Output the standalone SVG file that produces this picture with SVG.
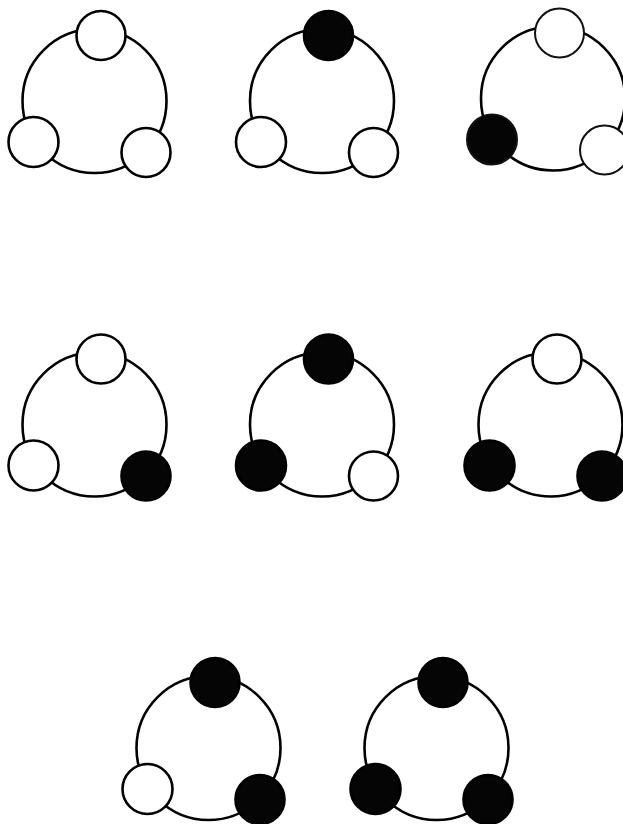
<svg xmlns="http://www.w3.org/2000/svg" width="623" height="824" viewBox="0 0 623 824">
<style>
.ring{fill:none;stroke:#000;stroke-width:2.6}
.w{fill:#fff;stroke:#000;stroke-width:2.6}
.b{fill:#050505;stroke:#000;stroke-width:2.6}
.thin .ring,.thin .w,.thin .b{stroke-width:2;stroke:#111}
</style>
<defs>
<circle id="ringShape" cx="94.5" cy="101" r="72"/>
</defs>
<g id="connectors">
<use href="#ringShape" class="ring" transform="translate(0,0)"/>
<use href="#ringShape" class="ring" transform="translate(227.5,0)"/>
<use href="#ringShape" class="ring" transform="translate(458.5,-2.5)" stroke-width="2"/>
<use href="#ringShape" class="ring" transform="translate(0,323.5)"/>
<use href="#ringShape" class="ring" transform="translate(227.5,323.5)"/>
<use href="#ringShape" class="ring" transform="translate(456,323.5)"/>
<use href="#ringShape" class="ring" transform="translate(114,647)"/>
<use href="#ringShape" class="ring" transform="translate(342,647)"/>
</g>
<g id="diagram1" transform="translate(0,0)">
<circle class="w" cx="101" cy="35.5" r="24.5"/>
<circle class="w" cx="33.5" cy="142" r="25"/>
<circle class="w" cx="146" cy="152.5" r="24.5"/>
</g>
<g id="diagram2" transform="translate(227.5,0)">
<circle class="b" cx="101" cy="35.5" r="24.5"/>
<circle class="w" cx="33.5" cy="142" r="25"/>
<circle class="w" cx="146" cy="152.5" r="24.5"/>
</g>
<g id="diagram3" class="thin" transform="translate(458.5,-2.5)">
<circle class="w" cx="101" cy="35.5" r="24.5"/>
<circle class="b" cx="33.5" cy="142" r="25"/>
<circle class="w" cx="146" cy="152.5" r="24.5"/>
</g>
<g id="diagram4" transform="translate(0,323.5)">
<circle class="w" cx="101" cy="35.5" r="24.5"/>
<circle class="w" cx="33.5" cy="142" r="25"/>
<circle class="b" cx="146" cy="152.5" r="24.5"/>
</g>
<g id="diagram5" transform="translate(227.5,323.5)">
<circle class="b" cx="101" cy="35.5" r="24.5"/>
<circle class="b" cx="33.5" cy="142" r="25"/>
<circle class="w" cx="146" cy="152.5" r="24.5"/>
</g>
<g id="diagram6" transform="translate(456,323.5)">
<circle class="w" cx="101" cy="35.5" r="24.5"/>
<circle class="b" cx="33.5" cy="142" r="25"/>
<circle class="b" cx="146" cy="152.5" r="24.5"/>
</g>
<g id="diagram7" transform="translate(114,647)">
<circle class="b" cx="101" cy="35.5" r="24.5"/>
<circle class="w" cx="33.5" cy="142" r="25"/>
<circle class="b" cx="146" cy="152.5" r="24.5"/>
</g>
<g id="diagram8" transform="translate(342,647)">
<circle class="b" cx="101" cy="35.5" r="24.5"/>
<circle class="b" cx="33.5" cy="142" r="25"/>
<circle class="b" cx="146" cy="152.5" r="24.5"/>
</g>
</svg>
